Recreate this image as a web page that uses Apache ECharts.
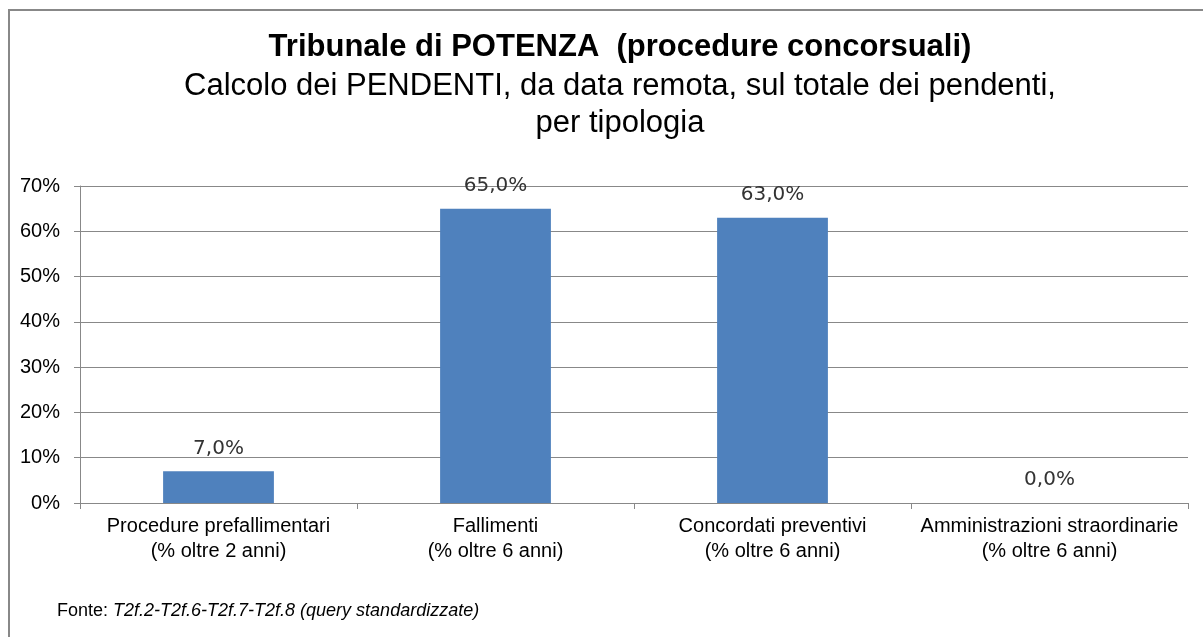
<!DOCTYPE html>
<html>
<head>
<meta charset="utf-8">
<script src="https://cdn.jsdelivr.net/npm/echarts@6/dist/echarts.min.js"></script>
<style>
  html, body { margin: 0; padding: 0; background: #fff; }
  #frame { position: absolute; left: 8px; top: 9px; width: 1210px; height: 650px; border: 2px solid #888; box-sizing: border-box; }
  #chart { position: absolute; left: 0; top: 0; width: 1203px; height: 637px; }
</style>
</head>
<body>
<div id="frame"></div>
<div id="chart"></div>
<script>
const categories = [
  'Procedure prefallimentari\n(% oltre 2 anni)',
  'Fallimenti\n(% oltre 6 anni)',
  'Concordati preventivi\n(% oltre 6 anni)',
  'Amministrazioni straordinarie\n(% oltre 6 anni)'
]
const pendenti = [7.0, 65.0, 63.0, 0.0]

const chart = echarts.init(document.getElementById('chart'))

const option = {
  animation: false,
  textStyle: { fontFamily: 'Liberation Sans, Arial, sans-serif' },
  title: [
    {
      text: 'Tribunale di POTENZA  (procedure concorsuali)',
      left: 615,
      textAlign: 'center',
      top: 27,
      textStyle: { fontSize: 31, fontWeight: 'bold', color: '#000' }
    },
    {
      text: 'Calcolo dei PENDENTI, da data remota, sul totale dei pendenti,\nper tipologia',
      left: 615,
      textAlign: 'center',
      top: 63,
      textStyle: { fontSize: 31, fontWeight: 'normal', color: '#000', lineHeight: 37 }
    },
    {
      text: '{n|Fonte: }{i|T2f.2-T2f.6-T2f.7-T2f.8 (query standardizzate)}',
      left: 52,
      top: 597,
      textStyle: {
        fontWeight: 'normal',
        rich: {
          n: { fontSize: 18, color: '#000', fontWeight: 'normal' },
          i: { fontSize: 18, color: '#000', fontWeight: 'normal', fontStyle: 'italic' }
        }
      }
    }
  ],
  grid: { left: 80, right: 15, top: 186, bottom: 134 },
  xAxis: {
    type: 'category',
    data: categories,
    axisLine: { lineStyle: { color: '#888' } },
    axisTick: { show: true, length: 6, lineStyle: { color: '#888' } },
    axisLabel: { fontSize: 20, color: '#000', lineHeight: 25, margin: 11, interval: 0 }
  },
  yAxis: {
    type: 'value',
    min: 0,
    max: 70,
    interval: 10,
    axisLine: { show: true, lineStyle: { color: '#888' } },
    axisTick: { show: true, length: 6, lineStyle: { color: '#888' } },
    axisLabel: { fontSize: 20, color: '#000', margin: 20, formatter: '{value}%' },
    splitLine: { lineStyle: { color: '#888', width: 1 } }
  },
  series: [
    {
      type: 'bar',
      data: pendenti,
      barWidth: '40%',
      itemStyle: { color: '#4f81bd' },
      label: {
        show: true,
        position: 'top',
        distance: 13,
        fontSize: 20,
        color: '#333',
        fontFamily: 'DejaVu Sans, sans-serif',
        formatter: p => p.value.toFixed(1).replace('.', ',') + '%'
      }
    }
  ]
}

chart.setOption(option)
</script>
</body>
</html>
